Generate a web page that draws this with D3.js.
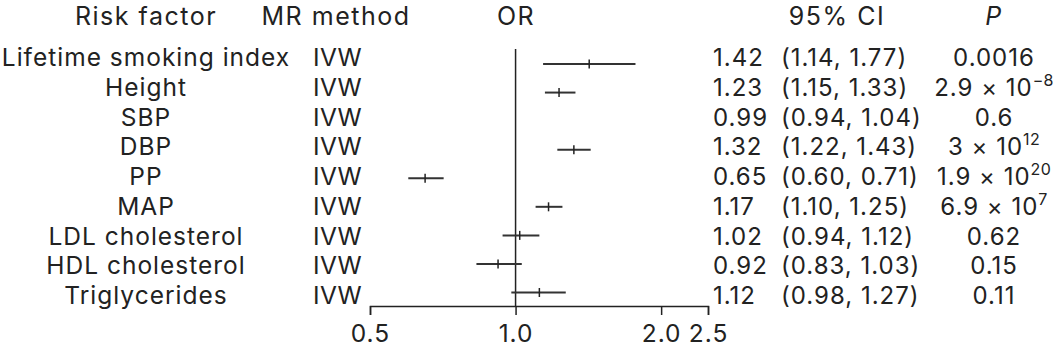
<!DOCTYPE html>
<html>
<head>
<meta charset="utf-8">
<script src="https://cdn.jsdelivr.net/npm/d3@7"></script>
<style>
  html, body { margin: 0; padding: 0; background: #fff; }
  svg { display: block; }
  text { font-family: Inter, "Open Sans", sans-serif; fill: #222; }
</style>
</head>
<body>
<svg id="chart" width="1053" height="347"></svg>
<script>
// ---- data ----
const riskFactors = ["Lifetime smoking index", "Height", "SBP", "DBP", "PP", "MAP",
                     "LDL cholesterol", "HDL cholesterol", "Triglycerides"];
const methods = ["IVW", "IVW", "IVW", "IVW", "IVW", "IVW", "IVW", "IVW", "IVW"];
const orValues = [1.42, 1.23, 0.99, 1.32, 0.65, 1.17, 1.02, 0.92, 1.12];
const ciLower  = [1.14, 1.15, 0.94, 1.22, 0.60, 1.10, 0.94, 0.83, 0.98];
const ciUpper  = [1.77, 1.33, 1.04, 1.43, 0.71, 1.25, 1.12, 1.03, 1.27];
const markerShown = [true, true, false, true, true, true, true, true, true];
const pMantissa = ["0.0016", "2.9 × 10", "0.6", "3 × 10", "1.9 × 10", "6.9 × 10", "0.62", "0.15", "0.11"];
const pExponent = [null, "−8", null, "12", "20", "7", null, null, null];
const xTicks = [0.5, 1.0, 2.0, 2.5];
const headers = ["Risk factor", "MR method", "OR", "95% CI", "P"];

// ---- layout ----
const svg = d3.select("#chart");
const x = d3.scaleLog().domain([0.5, 2.5]).range([370, 708]);
const markerY = d3.scalePoint().domain(d3.range(riskFactors.length)).range([64, 292.5]);
const textY = d3.scalePoint().domain(d3.range(riskFactors.length)).range([66, 304]);
const axisY = 306;

const col = { risk: 146, method: 313, methodHead: 336, orHead: 516, orVal: 713, ciMin: 781, ciHead: 837, p: 994 };

function font(size, ls) {
  return sel => sel.style("font-size", size + "px").style("letter-spacing", ls + "px").style("font-weight", 400);
}

// headers
const headerX = [col.risk, col.methodHead, col.orHead, col.ciHead, col.p];
svg.selectAll("text.header").data(headers).join("text")
  .attr("class", "header")
  .attr("x", (d, i) => headerX[i]).attr("y", 24.5)
  .attr("text-anchor", "middle")
  .call(font(25, 1.5))
  .style("font-style", d => d === "P" ? "italic" : "normal")
  .text(d => d);

const rows = d3.range(riskFactors.length);

// risk factor names
svg.selectAll("text.risk").data(rows).join("text")
  .attr("class", "risk")
  .attr("x", col.risk).attr("y", i => textY(i))
  .attr("text-anchor", "middle").call(font(24.5, 1.0))
  .text(i => riskFactors[i]);

// method
svg.selectAll("text.method").data(rows).join("text")
  .attr("class", "method")
  .attr("x", col.method).attr("y", i => textY(i))
  .call(font(24.5, 0.5))
  .text(i => methods[i]);

// OR values
const orText = svg.selectAll("text.orv").data(rows).join("text")
  .attr("class", "orv")
  .attr("x", col.orVal).attr("y", i => textY(i))
  .call(font(24, 1.0))
  .text(i => orValues[i].toFixed(2));

const orWidths = [];
orText.each(function(i) { orWidths[i] = this.getComputedTextLength(); });

// CI text
svg.selectAll("text.ci").data(rows).join("text")
  .attr("class", "ci")
  .attr("x", i => Math.max(col.ciMin, col.orVal + orWidths[i] + 2))
  .attr("y", i => textY(i))
  .call(font(24, 1.0))
  .text(i => `(${ciLower[i].toFixed(2)}, ${ciUpper[i].toFixed(2)})`);

// P values
const pText = svg.selectAll("text.pv").data(rows).join("text")
  .attr("class", "pv")
  .attr("x", col.p).attr("y", i => textY(i))
  .attr("text-anchor", "middle")
  .call(font(24, 1.0));
pText.append("tspan").text(i => pMantissa[i]);
pText.filter(i => pExponent[i] !== null).append("tspan")
  .attr("dy", -10).style("font-size", "16px").style("letter-spacing", "0.3px")
  .text(i => pExponent[i]);

// reference line
svg.append("line")
  .attr("x1", x(1)).attr("x2", x(1))
  .attr("y1", 49).attr("y2", axisY)
  .attr("stroke", "#222").attr("stroke-width", 1.5);

// axis
const axis = d3.axisBottom(x).tickValues(xTicks).tickFormat(d3.format(".1f")).tickSizeOuter(0).tickSize(9);
const gAxis = svg.append("g").attr("transform", `translate(0,${axisY})`).call(axis);
gAxis.select(".domain").attr("stroke", "#222").attr("stroke-width", 1.5);
gAxis.selectAll(".tick line").attr("stroke", "#222").attr("stroke-width", 1.5);
gAxis.selectAll(".tick text")
  .attr("y", 19).attr("dy", "0.71em")
  .style("font-family", "Inter, 'Open Sans', sans-serif")
  .style("letter-spacing", "1px")
  .style("font-size", "24.5px").attr("fill", "#222");

// CI markers
const shown = rows.filter(i => markerShown[i]);
svg.selectAll("line.ci").data(shown).join("line")
  .attr("class", "ci")
  .attr("x1", i => x(ciLower[i])).attr("x2", i => x(ciUpper[i]))
  .attr("y1", i => markerY(i)).attr("y2", i => markerY(i))
  .attr("stroke", "#333").attr("stroke-width", 2);
svg.selectAll("line.pt").data(shown).join("line")
  .attr("class", "pt")
  .attr("x1", i => x(orValues[i])).attr("x2", i => x(orValues[i]))
  .attr("y1", i => markerY(i) - 4.5).attr("y2", i => markerY(i) + 4.5)
  .attr("stroke", "#222").attr("stroke-width", 1.5);
</script>
</body>
</html>
